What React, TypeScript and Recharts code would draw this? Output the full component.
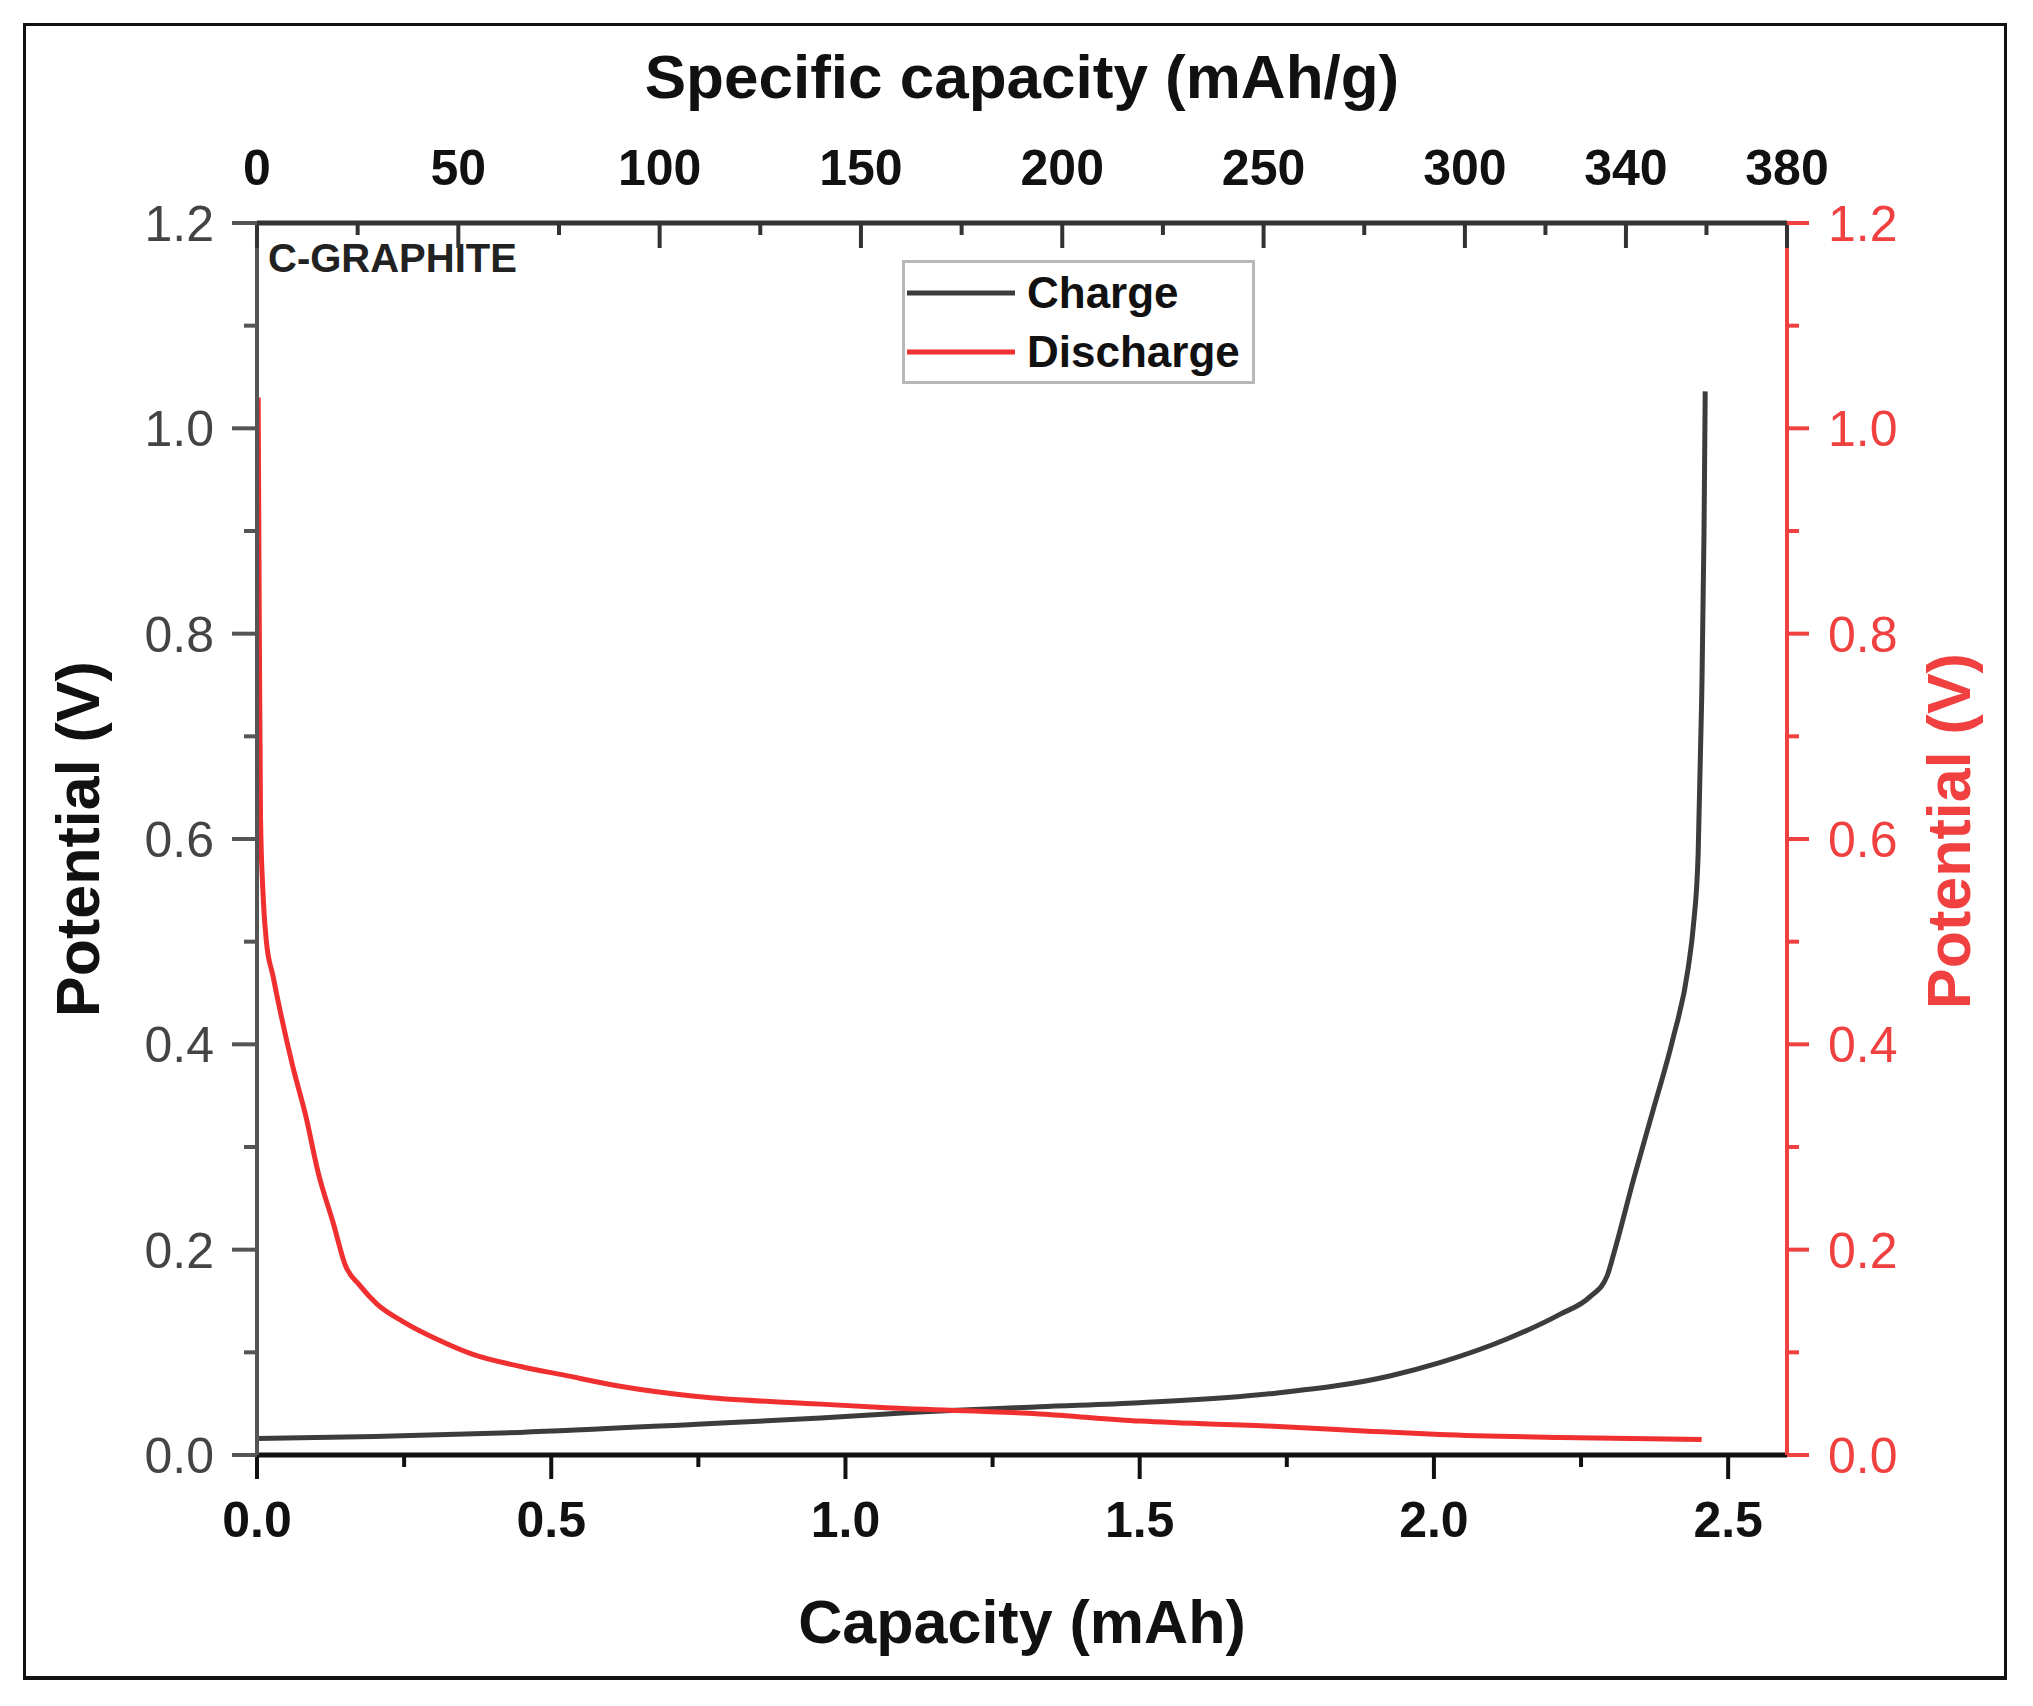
import React from "react";
import { Legend, Line, LineChart, XAxis, YAxis } from "recharts";

// Charge (delithiation) curve: capacity (mAh) vs potential (V)
const chargeCapacity = [
  0, 0.2, 0.447, 0.748, 0.958, 1.07, 1.33, 1.5, 1.727, 1.925, 2.01, 2.124, 2.214, 2.265, 2.294,
  2.307, 2.339, 2.373, 2.406, 2.432, 2.441, 2.449, 2.455, 2.459, 2.461,
];
const chargePotential = [
  0.016, 0.018, 0.022, 0.03, 0.036, 0.04, 0.047, 0.051, 0.06, 0.077, 0.09, 0.113, 0.137, 0.154,
  0.174, 0.199, 0.268, 0.337, 0.405, 0.474, 0.516, 0.585, 0.736, 0.9, 1.036,
];

// Discharge (lithiation) curve
const dischargeCapacity = [
  0.002, 0.004, 0.006, 0.01, 0.016, 0.027, 0.061, 0.083, 0.104, 0.13, 0.15, 0.175, 0.204, 0.248,
  0.305, 0.367, 0.45, 0.52, 0.617, 0.748, 0.945, 1.07, 1.33, 1.5, 1.727, 1.896, 2.01, 2.214, 2.455,
];
const dischargePotential = [
  1.03, 0.8, 0.62, 0.55, 0.5, 0.467, 0.378, 0.33, 0.275, 0.225, 0.185, 0.165, 0.147, 0.13, 0.113,
  0.098, 0.086, 0.078, 0.067, 0.057, 0.05, 0.046, 0.04, 0.033, 0.028, 0.023, 0.02, 0.017, 0.015,
];

// Axis ticks (all ticks) and the labelled majors
const capacityTicks = [0, 0.25, 0.5, 0.75, 1, 1.25, 1.5, 1.75, 2, 2.25, 2.5];
const capacityLabels = [0, 0.5, 1, 1.5, 2, 2.5];
const specificTicks = [0, 25, 50, 75, 100, 125, 150, 175, 200, 225, 250, 275, 300, 320, 340, 360, 380];
const specificLabels = [0, 50, 100, 150, 200, 250, 300, 340, 380];
const potentialTicks = [0, 0.1, 0.2, 0.3, 0.4, 0.5, 0.6, 0.7, 0.8, 0.9, 1, 1.1, 1.2];
const potentialLabels = [0, 0.2, 0.4, 0.6, 0.8, 1, 1.2];

const charge = chargeCapacity.map((c, i) => ({ c, v: chargePotential[i] }));
const discharge = dischargeCapacity.map((c, i) => ({ c, v: dischargePotential[i] }));
// no values: only registers the top (mAh/g) axis so it gets a scale
const specificAnchor = specificLabels.map((s) => ({ s, v: null }));

const FONT = '"Liberation Sans", Arial, Helvetica, sans-serif';
const RED = "#f03030";
const RED_AXIS = "#f04040";
const DARK = "#3c3c3c";

const W = 2033;
const H = 1706;
// plot box
const PL = 257;
const PR = 1787;
const PT = 223;
const PB = 1455;
const AXW = 160;
const AXH = 120;

const isIn = (list: number[], v: number) => list.some((l) => Math.abs(l - v) < 1e-6);

function BottomTick({ x, y, payload }: any) {
  const major = isIn(capacityLabels, payload.value);
  return (
    <g>
      <line x1={x} x2={x} y1={y} y2={y + (major ? 24 : 12)} stroke="#111" strokeWidth={4} />
      {major && (
        <text x={x} y={y + 82} textAnchor="middle" fontFamily={FONT} fontWeight="bold" fontSize={50} fill="#111">
          {payload.value.toFixed(1)}
        </text>
      )}
    </g>
  );
}

function TopTick({ x, y, payload }: any) {
  const major = isIn(specificLabels, payload.value);
  return (
    <g>
      <line x1={x} x2={x} y1={y} y2={y + (major ? 25 : 12)} stroke="#333" strokeWidth={4} />
      {major && (
        <text x={x} y={y - 38} textAnchor="middle" fontFamily={FONT} fontWeight="bold" fontSize={50} fill="#111">
          {payload.value}
        </text>
      )}
    </g>
  );
}

function LeftTick({ x, y, payload }: any) {
  const major = isIn(potentialLabels, payload.value);
  return (
    <g>
      <line x1={x - (major ? 25 : 13)} x2={x} y1={y} y2={y} stroke="#555" strokeWidth={4} />
      {major && (
        <text x={x - 43} y={y + 18} textAnchor="end" fontFamily={FONT} fontSize={50} fill="#444">
          {payload.value.toFixed(1)}
        </text>
      )}
    </g>
  );
}

function RightTick({ x, y, payload }: any) {
  const major = isIn(potentialLabels, payload.value);
  return (
    <g>
      <line x1={x} x2={x + (major ? 22 : 12)} y1={y} y2={y} stroke={RED_AXIS} strokeWidth={4} />
      {major && (
        <text x={x + 41} y={y + 18} textAnchor="start" fontFamily={FONT} fontSize={50} fill={RED_AXIS}>
          {payload.value.toFixed(1)}
        </text>
      )}
    </g>
  );
}

function LegendBox({ payload }: any) {
  const items = (payload || []).filter((p: any) => p.type !== "none");
  return (
    <div
      style={{
        width: 353,
        height: 124,
        boxSizing: "border-box",
        border: "3px solid #b8b8b8",
        background: "#fff",
        paddingLeft: 2,
      }}
    >
      {items.map((p: any) => (
        <div key={p.value} style={{ display: "flex", alignItems: "center", height: 59 }}>
          <svg width={108} height={10} style={{ display: "block" }}>
            <line x1={0} x2={108} y1={5} y2={5} stroke={p.color} strokeWidth={5} />
          </svg>
          <span style={{ marginLeft: 12, fontFamily: FONT, fontWeight: "bold", fontSize: 44, color: "#111" }}>
            {p.value}
          </span>
        </div>
      ))}
    </div>
  );
}

export default function App() {
  const cx = (PL + PR) / 2;
  const cy = (PT + PB) / 2;
  return (
    <div style={{ position: "relative", width: W, height: H, background: "#fff" }}>
      <style>{"body{margin:0;background:#fff}"}</style>
      <div
        style={{
          position: "absolute",
          left: 23,
          top: 23,
          width: 1984,
          height: 1657,
          boxSizing: "border-box",
          border: "3px solid #111",
          borderBottomWidth: 4,
        }}
      />
      <div style={{ position: "absolute", left: 0, top: 0 }}>
        <LineChart
          width={W}
          height={H}
          margin={{ top: PT - AXH, bottom: H - PB - AXH, left: PL - AXW, right: W - PR - AXW }}
        >
          <XAxis
            xAxisId="bottom"
            dataKey="c"
            type="number"
            domain={[0, 2.6]}
            allowDataOverflow
            ticks={capacityTicks}
            interval={0}
            height={AXH}
            tickSize={0}
            tickMargin={0}
            tickLine={false}
            tick={<BottomTick />}
            axisLine={{ stroke: "#111", strokeWidth: 5 }}
          />
          <XAxis
            xAxisId="top"
            orientation="top"
            dataKey="s"
            type="number"
            domain={[0, 380]}
            allowDataOverflow
            ticks={specificTicks}
            interval={0}
            height={AXH}
            tickSize={0}
            tickMargin={0}
            tickLine={false}
            tick={<TopTick />}
            axisLine={{ stroke: "#333", strokeWidth: 5 }}
          />
          <YAxis
            yAxisId="left"
            type="number"
            domain={[0, 1.2]}
            allowDataOverflow
            ticks={potentialTicks}
            interval={0}
            width={AXW}
            tickSize={0}
            tickMargin={0}
            tickLine={false}
            tick={<LeftTick />}
            axisLine={{ stroke: "#555", strokeWidth: 4 }}
          />
          <YAxis
            yAxisId="right"
            orientation="right"
            type="number"
            domain={[0, 1.2]}
            allowDataOverflow
            ticks={potentialTicks}
            interval={0}
            width={AXW}
            tickSize={0}
            tickMargin={0}
            tickLine={false}
            tick={<RightTick />}
            axisLine={{ stroke: RED_AXIS, strokeWidth: 4 }}
          />
          <Line
            xAxisId="top"
            yAxisId="left"
            data={specificAnchor}
            dataKey="v"
            stroke="none"
            legendType="none"
            dot={false}
            activeDot={false}
            isAnimationActive={false}
          />
          <Line
            xAxisId="bottom"
            yAxisId="left"
            data={charge}
            dataKey="v"
            name="Charge"
            type="monotone"
            stroke={DARK}
            strokeWidth={5}
            dot={false}
            isAnimationActive={false}
          />
          <Line
            xAxisId="bottom"
            yAxisId="right"
            data={discharge}
            dataKey="v"
            name="Discharge"
            type="monotone"
            stroke={RED}
            strokeWidth={5}
            dot={false}
            isAnimationActive={false}
          />
          <Legend
            layout="horizontal"
            verticalAlign="middle"
            align="center"
            content={<LegendBox />}
            wrapperStyle={{ left: 902, top: 260, width: "auto", height: "auto" }}
          />
          <text x={268} y={272} fontFamily={FONT} fontWeight="bold" fontSize={40} fill="#222">
            C-GRAPHITE
          </text>
          <text x={cx} y={98} textAnchor="middle" fontFamily={FONT} fontWeight="bold" fontSize={62} fill="#111">
            Specific capacity (mAh/g)
          </text>
          <text x={cx} y={1643} textAnchor="middle" fontFamily={FONT} fontWeight="bold" fontSize={61} fill="#111">
            Capacity (mAh)
          </text>
          <text
            x={99}
            y={cy}
            transform={`rotate(-90 99 ${cy})`}
            textAnchor="middle"
            fontFamily={FONT}
            fontWeight="bold"
            fontSize={61}
            fill="#111"
          >
            Potential (V)
          </text>
          <text
            x={1970}
            y={cy - 8}
            transform={`rotate(-90 1970 ${cy - 8})`}
            textAnchor="middle"
            fontFamily={FONT}
            fontWeight="bold"
            fontSize={61}
            fill={RED_AXIS}
          >
            Potential (V)
          </text>
        </LineChart>
      </div>
    </div>
  );
}
